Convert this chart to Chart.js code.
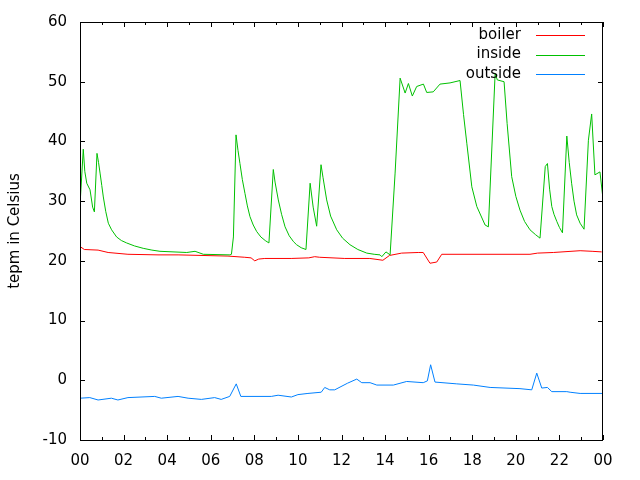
<!DOCTYPE html>
<html>
<head>
<meta charset="utf-8">
<script src="https://cdn.jsdelivr.net/npm/chart.js@4/dist/chart.umd.min.js"></script>
<style>
  html, body { margin: 0; padding: 0; background: #fff; }
  #chart { display: block; }
</style>
</head>
<body>
<canvas id="chart" width="640" height="480"></canvas>
<script>
// Data (hours since midnight, temperature in Celsius)
const boilerHours = [0, 0.2, 0.83, 1.29, 2.2, 3.58, 4.5, 6.79, 7.56, 7.85, 8.02, 8.2, 8.48, 9.69, 10.5, 10.77, 11.0, 12.15, 13.3, 13.9, 14.2, 14.76, 15.52, 15.75, 16.06, 16.37, 16.6, 20.65, 21.0, 21.72, 22.95, 23.5, 23.94];
const boilerTemp  = [22.4, 21.9, 21.8, 21.4, 21.1, 21.0, 21.0, 20.8, 20.6, 20.5, 20.0, 20.3, 20.4, 20.4, 20.5, 20.7, 20.6, 20.4, 20.4, 20.1, 20.9, 21.3, 21.4, 21.4, 19.6, 19.8, 21.1, 21.1, 21.3, 21.4, 21.7, 21.6, 21.5];

const insideHours = [0, 0.15, 0.22, 0.31, 0.46, 0.58, 0.66, 0.78, 0.85, 0.92, 1.0, 1.07, 1.18, 1.3, 1.45, 1.68, 1.9, 2.14, 2.5, 2.9, 3.3, 3.67, 4.9, 5.28, 5.66, 6.88, 6.95, 7.04, 7.16, 7.25, 7.34, 7.45, 7.57, 7.68, 7.8, 7.95, 8.11, 8.3, 8.5, 8.67, 8.87, 8.95, 9.1, 9.25, 9.41, 9.6, 9.8, 9.94, 10.15, 10.37, 10.56, 10.7, 10.86, 11.06, 11.15, 11.32, 11.5, 11.78, 12.05, 12.39, 12.75, 13.16, 13.5, 13.77, 13.85, 14.04, 14.23, 14.46, 14.69, 14.92, 15.07, 15.25, 15.45, 15.76, 15.91, 16.21, 16.52, 16.98, 17.44, 17.6, 17.75, 17.98, 18.21, 18.59, 18.74, 19.05, 19.15, 19.46, 19.6, 19.81, 20.0, 20.19, 20.4, 20.65, 20.9, 21.11, 21.35, 21.45, 21.55, 21.65, 21.75, 21.88, 22.0, 22.14, 22.34, 22.45, 22.56, 22.67, 22.79, 22.95, 23.13, 23.33, 23.48, 23.63, 23.86, 23.99];
const insideTemp  = [29.3, 38.7, 35.0, 33.0, 31.9, 29.0, 28.2, 38.0, 36.5, 34.7, 32.6, 30.7, 28.3, 26.3, 25.2, 24.0, 23.4, 23.0, 22.5, 22.1, 21.8, 21.6, 21.4, 21.6, 21.1, 21.0, 21.1, 24.0, 41.1, 38.5, 36.3, 33.6, 31.3, 29.2, 27.4, 26.0, 24.9, 24.0, 23.4, 23.0, 35.3, 33.2, 30.2, 27.8, 25.7, 24.2, 23.2, 22.7, 22.2, 21.9, 33.0, 29.0, 25.8, 36.1, 34.0, 30.2, 27.5, 25.2, 23.8, 22.7, 21.9, 21.3, 21.1, 21.0, 20.7, 21.5, 21.0, 34.7, 50.6, 48.1, 49.7, 47.6, 49.2, 49.6, 48.2, 48.3, 49.6, 49.8, 50.2, 44.5, 39.7, 32.4, 29.1, 26.0, 25.7, 51.4, 50.3, 50.0, 43.0, 34.1, 30.8, 28.5, 26.6, 25.2, 24.4, 23.8, 35.8, 36.3, 32.0, 29.1, 27.8, 26.6, 25.6, 24.7, 40.9, 36.5, 33.0, 30.0, 27.7, 26.3, 25.3, 40.2, 44.6, 34.4, 34.9, 30.7];

const outsideHours = [0, 0.45, 0.83, 1.44, 1.74, 2.2, 3.43, 3.73, 4.5, 4.96, 5.57, 6.18, 6.48, 6.87, 7.17, 7.38, 8.78, 9.09, 9.7, 10.0, 10.46, 11.07, 11.23, 11.46, 11.69, 12.27, 12.7, 12.93, 13.31, 13.62, 14.38, 14.99, 15.75, 15.94, 16.09, 16.29, 17.29, 18.05, 18.82, 20.19, 20.73, 20.96, 21.19, 21.45, 21.65, 22.34, 22.49, 22.95, 24.0];
const outsideTemp  = [-3.0, -2.9, -3.3, -3.0, -3.3, -2.9, -2.7, -3.0, -2.7, -3.0, -3.2, -2.9, -3.2, -2.7, -0.6, -2.7, -2.7, -2.5, -2.8, -2.4, -2.2, -2.0, -1.2, -1.6, -1.6, -0.5, 0.2, -0.4, -0.4, -0.8, -0.8, -0.2, -0.4, -0.1, 2.6, -0.3, -0.6, -0.8, -1.2, -1.4, -1.6, 1.2, -1.3, -1.2, -1.9, -1.9, -2.0, -2.2, -2.2];

const seriesNames  = ['boiler', 'inside', 'outside'];
const seriesColors = ['#ff0000', '#00c000', '#0080ff'];
const yTitle = 'tepm in Celsius';

const FONT = '"DejaVu Sans", sans-serif';

function toPoints(hours, temps) {
    return hours.map((h, i) => ({ x: h, y: temps[i] }));
}

// Frame, inward ticks (gnuplot style) and key
const frameAndKey = {
    id: 'frameAndKey',
    afterDatasetsDraw(chart) {
        const ctx = chart.ctx;
        const a = chart.chartArea;
        const xs = chart.scales.x;
        const ys = chart.scales.y;
        ctx.save();
        ctx.strokeStyle = '#000';
        ctx.lineWidth = 1;
        ctx.beginPath();
        // y ticks left + right
        for (let v = -10; v <= 60; v += 10) {
            const py = Math.round(ys.getPixelForValue(v)) + 0.5;
            ctx.moveTo(a.left, py); ctx.lineTo(a.left + 5, py);
            ctx.moveTo(a.right, py); ctx.lineTo(a.right - 5, py);
        }
        // x ticks bottom + top (major every 2h, minor every hour)
        for (let h = 0; h <= 24; h++) {
            const px = Math.round(xs.getPixelForValue(h)) + 0.5;
            const len = h % 2 === 0 ? 5 : 3;
            ctx.moveTo(px, a.bottom); ctx.lineTo(px, a.bottom - len);
            ctx.moveTo(px, a.top); ctx.lineTo(px, a.top + len);
        }
        ctx.stroke();
        ctx.strokeRect(Math.round(a.left) + 0.5, Math.round(a.top) + 0.5,
            Math.round(a.right - a.left) - 1, Math.round(a.bottom - a.top));

        // key
        ctx.font = '15px ' + FONT;
        ctx.textAlign = 'right';
        ctx.textBaseline = 'middle';
        seriesNames.forEach((name, i) => {
            const y = 35 + i * 19.5;
            ctx.fillStyle = '#000';
            ctx.fillText(name, 521, y);
            ctx.strokeStyle = seriesColors[i];
            ctx.beginPath();
            ctx.moveTo(536, Math.round(y) + 0.5);
            ctx.lineTo(585, Math.round(y) + 0.5);
            ctx.stroke();
        });
        ctx.restore();
    }
};

const datasets = [
    toPoints(boilerHours, boilerTemp),
    toPoints(insideHours, insideTemp),
    toPoints(outsideHours, outsideTemp)
].map((pts, i) => ({
    label: seriesNames[i],
    data: pts,
    borderColor: seriesColors[i],
    backgroundColor: seriesColors[i],
    borderWidth: 1,
    pointRadius: 0,
    tension: 0,
    fill: false,
    order: 3 - i
}));

new Chart(document.getElementById('chart'), {
    type: 'line',
    data: { datasets },
    options: {
        responsive: false,
        animation: false,
        events: [],
        layout: { padding: { left: 0, top: 22, right: 37, bottom: 0 } },
        plugins: {
            legend: { display: false },
            tooltip: { enabled: false }
        },
        scales: {
            x: {
                type: 'linear',
                min: 0,
                max: 24,
                grid: { display: false, drawTicks: false },
                border: { display: false },
                ticks: {
                    stepSize: 2,
                    padding: 12,
                    color: '#000',
                    font: { family: FONT, size: 15 },
                    maxRotation: 0,
                    callback: v => String(v % 24).padStart(2, '0')
                },
                afterFit: s => { s.height = 40; }
            },
            y: {
                min: -10,
                max: 60,
                grid: { display: false, drawTicks: false },
                border: { display: false },
                ticks: {
                    stepSize: 10,
                    padding: 13,
                    color: '#000',
                    font: { family: FONT, size: 15 }
                },
                title: {
                    display: true,
                    text: yTitle,
                    color: '#000',
                    font: { family: FONT, size: 15 },
                    padding: { top: 6, bottom: 0 }
                },
                afterFit: s => { s.width = 80; }
            }
        }
    },
    plugins: [frameAndKey]
});
</script>
</body>
</html>
